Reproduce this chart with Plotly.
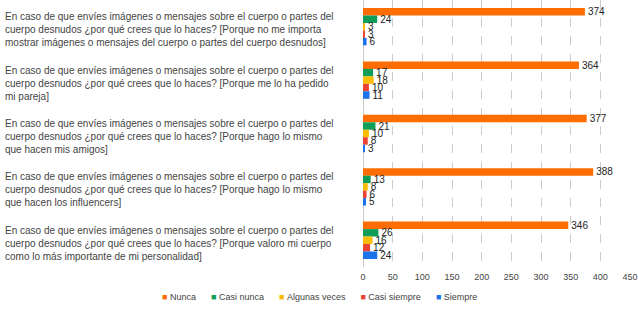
import plotly.graph_objects as go

categories = [
    "En caso de que envíes imágenes o mensajes sobre el cuerpo o partes del<br>cuerpo desnudos ¿por qué crees que lo haces? [Porque no me importa<br>mostrar imágenes o mensajes del cuerpo o partes del cuerpo desnudos]",
    "En caso de que envíes imágenes o mensajes sobre el cuerpo o partes del<br>cuerpo desnudos ¿por qué crees que lo haces? [Porque me lo ha pedido<br>mi pareja]",
    "En caso de que envíes imágenes o mensajes sobre el cuerpo o partes del<br>cuerpo desnudos ¿por qué crees que lo haces? [Porque hago lo mismo<br>que hacen mis amigos]",
    "En caso de que envíes imágenes o mensajes sobre el cuerpo o partes del<br>cuerpo desnudos ¿por qué crees que lo haces? [Porque hago lo mismo<br>que hacen los influencers]",
    "En caso de que envíes imágenes o mensajes sobre el cuerpo o partes del<br>cuerpo desnudos ¿por qué crees que lo haces? [Porque valoro mi cuerpo<br>como lo más importante de mi personalidad]",
]
cat_ids = ["c1", "c2", "c3", "c4", "c5"]

series_names = ["Nunca", "Casi nunca", "Algunas veces", "Casi siempre", "Siempre"]
nunca = [374, 364, 377, 388, 346]
casi_nunca = [24, 17, 21, 13, 26]
algunas_veces = [3, 18, 10, 8, 16]
casi_siempre = [3, 10, 8, 6, 12]
siempre = [6, 11, 3, 5, 24]
series_values = [nunca, casi_nunca, algunas_veces, casi_siempre, siempre]
colors = ["#ff6d01", "#0f9d58", "#fbbc04", "#ea4335", "#1a73e8"]

x_ticks = [0, 50, 100, 150, 200, 250, 300, 350, 400, 450]

L, R, T, B = 363, 8, 0, 42
W, H = 638, 309
plot_w = W - L - R
plot_h = H - T - B

fig = go.Figure()
for name, vals, col in zip(series_names, series_values, colors):
    fig.add_trace(go.Bar(
        y=cat_ids, x=vals, name=name, orientation="h",
        marker=dict(color=col, line=dict(width=0)),
        text=[str(v) for v in vals], textposition="outside",
        constraintext="none",
        textfont=dict(size=10, color="#222222", family="Liberation Sans"),
        cliponaxis=False, showlegend=False,
    ))

for cid, label in zip(cat_ids, categories):
    fig.add_annotation(
        x=-(L - 3) / plot_w, xref="paper", y=cid, yref="y", text=label,
        xanchor="left", align="left", showarrow=False, yshift=-3,
        font=dict(size=10, color="#444444", family="Liberation Sans"),
    )

# legend row (as text with coloured squares)
nb = "\u00a0"
legend_items = [f"<span style='color:{c}'>■</span>{nb}{n}" for n, c in zip(series_names, colors)]
legend_text = (nb * 6).join(legend_items)
fig.add_annotation(
    x=(W / 2 - L) / plot_w, xref="paper", y=-(297 - plot_h) / plot_h, yref="paper",
    text=legend_text, xanchor="center", yanchor="middle", showarrow=False,
    font=dict(size=9, color="#444444", family="Liberation Sans"),
)

fig.update_layout(
    width=W, height=H,
    margin=dict(l=L, r=R, t=T, b=B, autoexpand=False),
    barmode="group", bargap=0.3, bargroupgap=0,
    plot_bgcolor="white", paper_bgcolor="white",
    font=dict(family="Liberation Sans", size=9, color="#444444"),
    showlegend=False,
)
fig.update_xaxes(range=[0, 450], tickvals=x_ticks, ticktext=[str(t) for t in x_ticks],
                 showgrid=True, gridcolor="#cccccc", griddash="dash", gridwidth=1,
                 zeroline=True, zerolinecolor="#cccccc", zerolinewidth=1,
                 tickfont=dict(size=9, color="#444444"), ticks="", automargin=False,
                 ticklabelstandoff=3)
fig.update_yaxes(autorange="reversed", showticklabels=False, showgrid=False, ticks="",
                 automargin=False)

fig.write_html("out.html", post_script="document.body.style.margin='0';",
               config={"displayModeBar": False})
